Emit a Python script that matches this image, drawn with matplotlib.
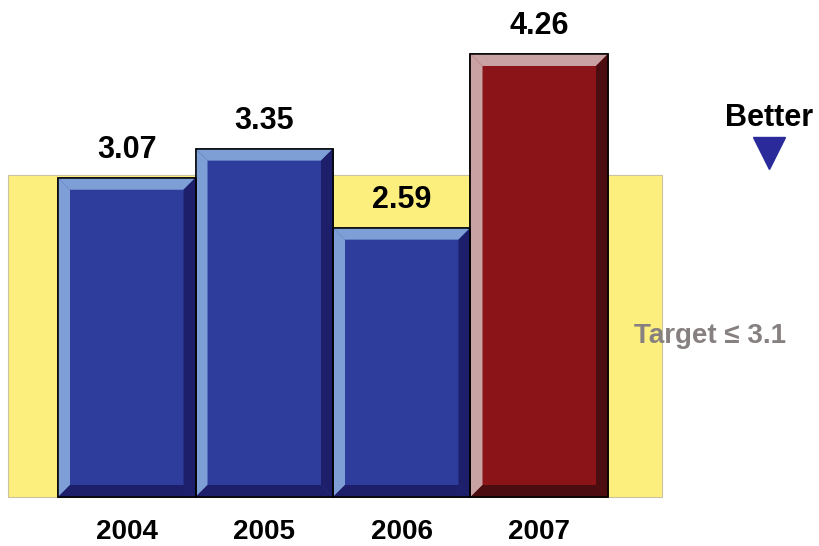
import matplotlib
matplotlib.use("Agg")
import matplotlib.pyplot as plt
from matplotlib.patches import Polygon, Rectangle

years = ["2004", "2005", "2006", "2007"]
values = [3.07, 3.35, 2.59, 4.26]
value_labels = ["3.07", "3.35", "2.59", "4.26"]
target = 3.1
target_label = "Target \u2264 3.1"
better_label = "Better"

face_colors = ["#2E3C9C", "#2E3C9C", "#2E3C9C", "#8A1418"]
light_colors = ["#7D9FD6", "#7D9FD6", "#7D9FD6", "#C9A3A3"]
dark_colors = ["#1D1F6B", "#1D1F6B", "#1D1F6B", "#4B0D10"]

plt.rcParams['font.family'] = ['Liberation Sans', 'DejaVu Sans']

fig = plt.figure(figsize=(8.2, 5.46), dpi=100)
ax = fig.add_axes([0, 0, 1, 1])
ax.set_xlim(-0.922, 5.042)
ax.set_ylim(-0.471, 4.779)
ax.axis('off')

# target band
ax.add_patch(Rectangle((-0.864, 0), 3.893 + 0.864, target, facecolor="#FDEF7E",
                       edgecolor="#C9C3A0", linewidth=0.8, zorder=1))

xs = list(range(len(values)))
bars = ax.bar(xs, values, width=1.0, color=face_colors, edgecolor="black",
              linewidth=1.1, zorder=3)

bx = 12 / 137.5
by = 12 / 104
for b, lc, dc in zip(bars, light_colors, dark_colors):
    x0 = b.get_x()
    x1 = x0 + b.get_width()
    y0 = 0
    y1 = b.get_height()
    top = Polygon([(x0, y1), (x1, y1), (x1 - bx, y1 - by), (x0 + bx, y1 - by)],
                  closed=True, facecolor=lc, edgecolor='none', zorder=4)
    left = Polygon([(x0, y0), (x0, y1), (x0 + bx, y1 - by), (x0 + bx, y0 + by)],
                   closed=True, facecolor=lc, edgecolor='none', zorder=4)
    right = Polygon([(x1, y0), (x1, y1), (x1 - bx, y1 - by), (x1 - bx, y0 + by)],
                    closed=True, facecolor=dc, edgecolor='none', zorder=4)
    bottom = Polygon([(x0, y0), (x1, y0), (x1 - bx, y0 + by), (x0 + bx, y0 + by)],
                     closed=True, facecolor=dc, edgecolor='none', zorder=4)
    for p in (top, left, right, bottom):
        ax.add_patch(p)
    ax.add_patch(Rectangle((x0, y0), x1 - x0, y1, facecolor='none',
                           edgecolor='black', linewidth=1.1, zorder=5))

for x, v, lab in zip(xs, values, value_labels):
    ax.annotate(lab, (x, v), xytext=(0, 14.4), textcoords='offset points',
                ha='center', va='baseline', fontsize=22, fontweight='bold',
                color='black', zorder=6)

for x, yr in zip(xs, years):
    ax.text(x, -0.40, yr, ha='center', va='baseline', fontsize=20,
            fontweight='bold', color='black')

ax.text(4.242, 1.48, target_label, ha='center', va='baseline', fontsize=20,
        fontweight='bold', color='#878080', zorder=6)

ax.text(4.671, 3.57, better_label, ha='center', va='baseline', fontsize=22,
        fontweight='bold', color='black')
ax.plot([4.671], [3.308], marker='v', markersize=23, color='#2A2A9A',
        markeredgecolor='#2A2A9A', linestyle='none')

fig.savefig("out.png", dpi=100, facecolor='white')
